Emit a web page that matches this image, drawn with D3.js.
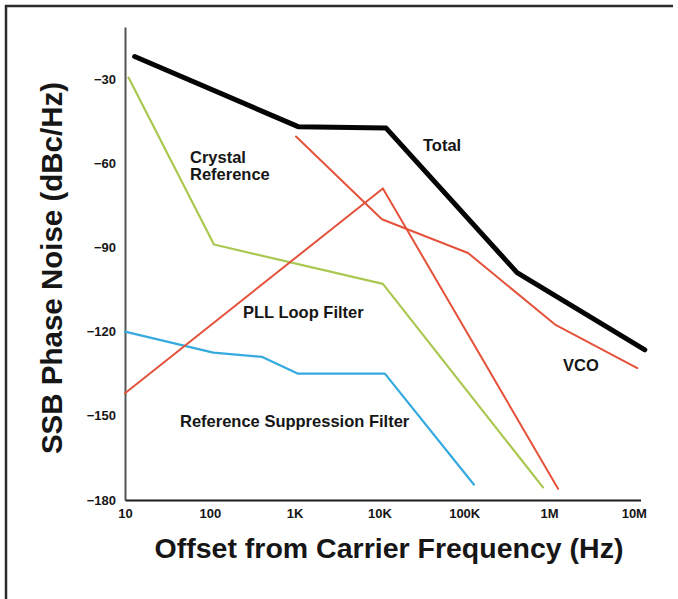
<!DOCTYPE html>
<html>
<head>
<meta charset="utf-8">
<script src="https://cdn.jsdelivr.net/npm/d3@7"></script>
<style>
  html, body { margin: 0; padding: 0; background: #fff; }
  svg { display: block; }
  text { font-family: "Liberation Sans", Arial, Helvetica, sans-serif; font-weight: bold; fill: #161616; }
</style>
</head>
<body>
<svg id="chart" width="678" height="599"></svg>
<script>
// Offset frequencies (Hz) and SSB phase noise (dBc/Hz) for each contributor
const totalFreq   = [13, 1100, 12000, 420000, 13500000];
const totalNoise  = [-22, -47, -47.5, -99, -126.5];

const crystalFreq  = [11, 112, 11000, 850000];
const crystalNoise = [-29.5, -89, -103, -175.5];

const vcoFreq  = [1040, 10700, 111000, 1180000, 11000000];
const vcoNoise = [-50.5, -80, -92, -117.5, -133];

const loopFreq  = [10, 11000, 1280000];
const loopNoise = [-142, -69, -176];

const suppFreq  = [10, 110, 410, 1100, 11600, 130000];
const suppNoise = [-120, -127.5, -129, -135, -135, -174.5];

// Axis ticks
const xTicks = [10, 100, 1e3, 1e4, 1e5, 1e6, 1e7];
const xTickLabels = ["10", "100", "1K", "10K", "100K", "1M", "10M"];
const yTicks = [-30, -60, -90, -120, -150, -180];

const svg = d3.select("#chart");

// Outer frame (top and left edges)
svg.append("path")
  .attr("d", "M6,599 L6,6 L673,6")
  .attr("fill", "none")
  .attr("stroke", "#2b2b2b")
  .attr("stroke-width", 2.5);

const x = d3.scaleLog().domain([10, 1.2e7]).range([125, 640.5]);
const y = d3.scaleLinear().domain([-180, -11.5]).range([500, 27]);

// Y axis
const yAxis = svg.append("g")
  .attr("transform", "translate(125,0)")
  .call(d3.axisLeft(y).tickValues(yTicks).tickSize(0).tickSizeOuter(0).tickPadding(9).tickFormat(d3.format("d")));
yAxis.select(".domain").attr("stroke", "#555").attr("stroke-width", 2);
yAxis.selectAll("text").style("font-size", "13px").attr("fill", "#161616");

// X axis
const xAxis = svg.append("g")
  .attr("transform", "translate(0,500)")
  .call(d3.axisBottom(x).tickValues(xTicks).tickSize(0).tickSizeOuter(0).tickPadding(9)
    .tickFormat((d, i) => xTickLabels[i]));
xAxis.select(".domain").attr("stroke", "#1a1a1a").attr("stroke-width", 2);
xAxis.selectAll("text").style("font-size", "13px").attr("fill", "#161616");

// Series
const series = [
  { name: "suppression", f: suppFreq,    n: suppNoise,    color: "#36a9de", width: 2.2 },
  { name: "crystal",     f: crystalFreq, n: crystalNoise, color: "#aac850", width: 2.2 },
  { name: "loop",        f: loopFreq,    n: loopNoise,    color: "#e4523c", width: 2 },
  { name: "vco",         f: vcoFreq,     n: vcoNoise,     color: "#e4523c", width: 2 },
  { name: "total",       f: totalFreq,   n: totalNoise,   color: "#050505", width: 5 }
];

const line = d3.line().x(d => x(d[0])).y(d => y(d[1]));

svg.append("g").selectAll("path")
  .data(series)
  .join("path")
  .attr("d", s => line(s.f.map((f, i) => [f, s.n[i]])))
  .attr("fill", "none")
  .attr("stroke", s => s.color)
  .attr("stroke-width", s => s.width)
  .attr("stroke-linejoin", "round")
  .attr("stroke-linecap", "round");

// Curve annotations
const notes = [
  { lines: ["Total"], x: 423, y: 151 },
  { lines: ["Crystal", "Reference"], x: 190, y: 162.5 },
  { lines: ["PLL Loop Filter"], x: 243, y: 318 },
  { lines: ["Reference Suppression Filter"], x: 180, y: 427 },
  { lines: ["VCO"], x: 563, y: 371 }
];
notes.forEach(nt => {
  const t = svg.append("text")
    .attr("x", nt.x).attr("y", nt.y)
    .style("font-size", "16.5px");
  nt.lines.forEach((s, i) => {
    t.append("tspan").attr("x", nt.x).attr("dy", i === 0 ? 0 : 17.5).text(s);
  });
});

// Axis titles
svg.append("text")
  .attr("x", 389).attr("y", 558)
  .attr("text-anchor", "middle")
  .style("font-size", "28.5px")
  .text("Offset from Carrier Frequency (Hz)");

svg.append("text")
  .attr("transform", "translate(62,268) rotate(-90)")
  .attr("text-anchor", "middle")
  .style("font-size", "29.5px")
  .text("SSB Phase Noise (dBc/Hz)");
</script>
</body>
</html>
